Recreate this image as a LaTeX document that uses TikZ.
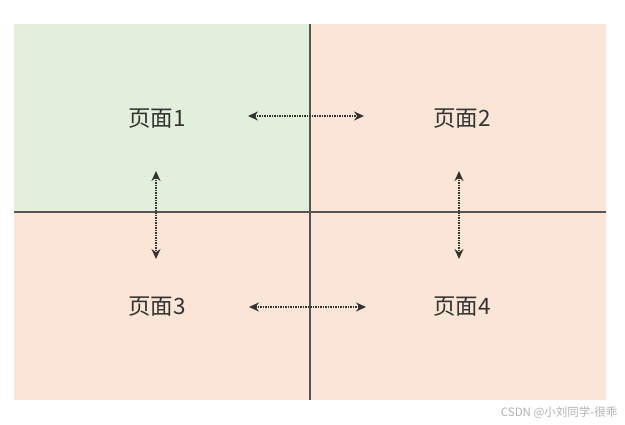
\documentclass[tikz,border=0pt]{standalone}
\usepackage{fontspec}
\usepackage{tikz}
\usetikzlibrary{arrows.meta,positioning}
\newfontfamily\cjk{Noto Sans CJK SC}
\definecolor{pgg}{HTML}{E2EFDA}
\definecolor{pgp}{HTML}{FBE5D6}
\definecolor{ln}{HTML}{555555}
\definecolor{tx}{HTML}{333333}
\tikzset{
  pane/.style={draw=none,minimum width=296pt,minimum height=188pt,inner sep=0pt,anchor=north west},
  lbl/.style={text=tx,font=\cjk\fontsize{22.5}{24}\selectfont,inner sep=0pt},
  ar/.style={{Stealth[length=10pt,width=9pt]}-{Stealth[length=10pt,width=9pt]},densely dotted,line width=1.5pt,draw=tx},
}
\begin{document}
\begin{tikzpicture}[x=1pt,y=-1pt]
\useasboundingbox[fill=white] (0,0) rectangle (625,425);
% four pages
\node[pane,fill=pgg] (p1) at (14,24) {};
\node[pane,fill=pgp] (p2) at (310,24) {};
\node[pane,fill=pgp] (p3) at (14,212) {};
\node[pane,fill=pgp] (p4) at (310,212) {};
\draw[ln,line width=2pt] (p1.north east) -- (p3.south east);
\draw[ln,line width=2pt] (p1.south west) -- (p2.south east);
% labels
\node[lbl] (t1) at (157,119) {页面1};
\node[lbl] (t2) at (462,119) {页面2};
\node[lbl] (t3) at (157,307) {页面3};
\node[lbl] (t4) at (462,307) {页面4};
\draw[ar,shorten <=62pt,shorten >=69pt] ([yshift=3pt]t1.east) -- ([yshift=3pt]t2.west);
\draw[ar,shorten <=63pt,shorten >=67pt] (t3) -- (t4);
\draw[ar,shorten <=52pt,shorten >=48pt] ([xshift=-1pt]t1.center) -- ([xshift=-1pt]t3.center);
\draw[ar,shorten <=52pt,shorten >=48pt] ([xshift=-3pt]t2.center) -- ([xshift=-3pt]t4.center);
\node[text=gray!60,font=\cjk\fontsize{11.5}{13}\selectfont,anchor=east] (wm) at (621,413) {CSDN @小刘同学-很乖};
\end{tikzpicture}
\end{document}
